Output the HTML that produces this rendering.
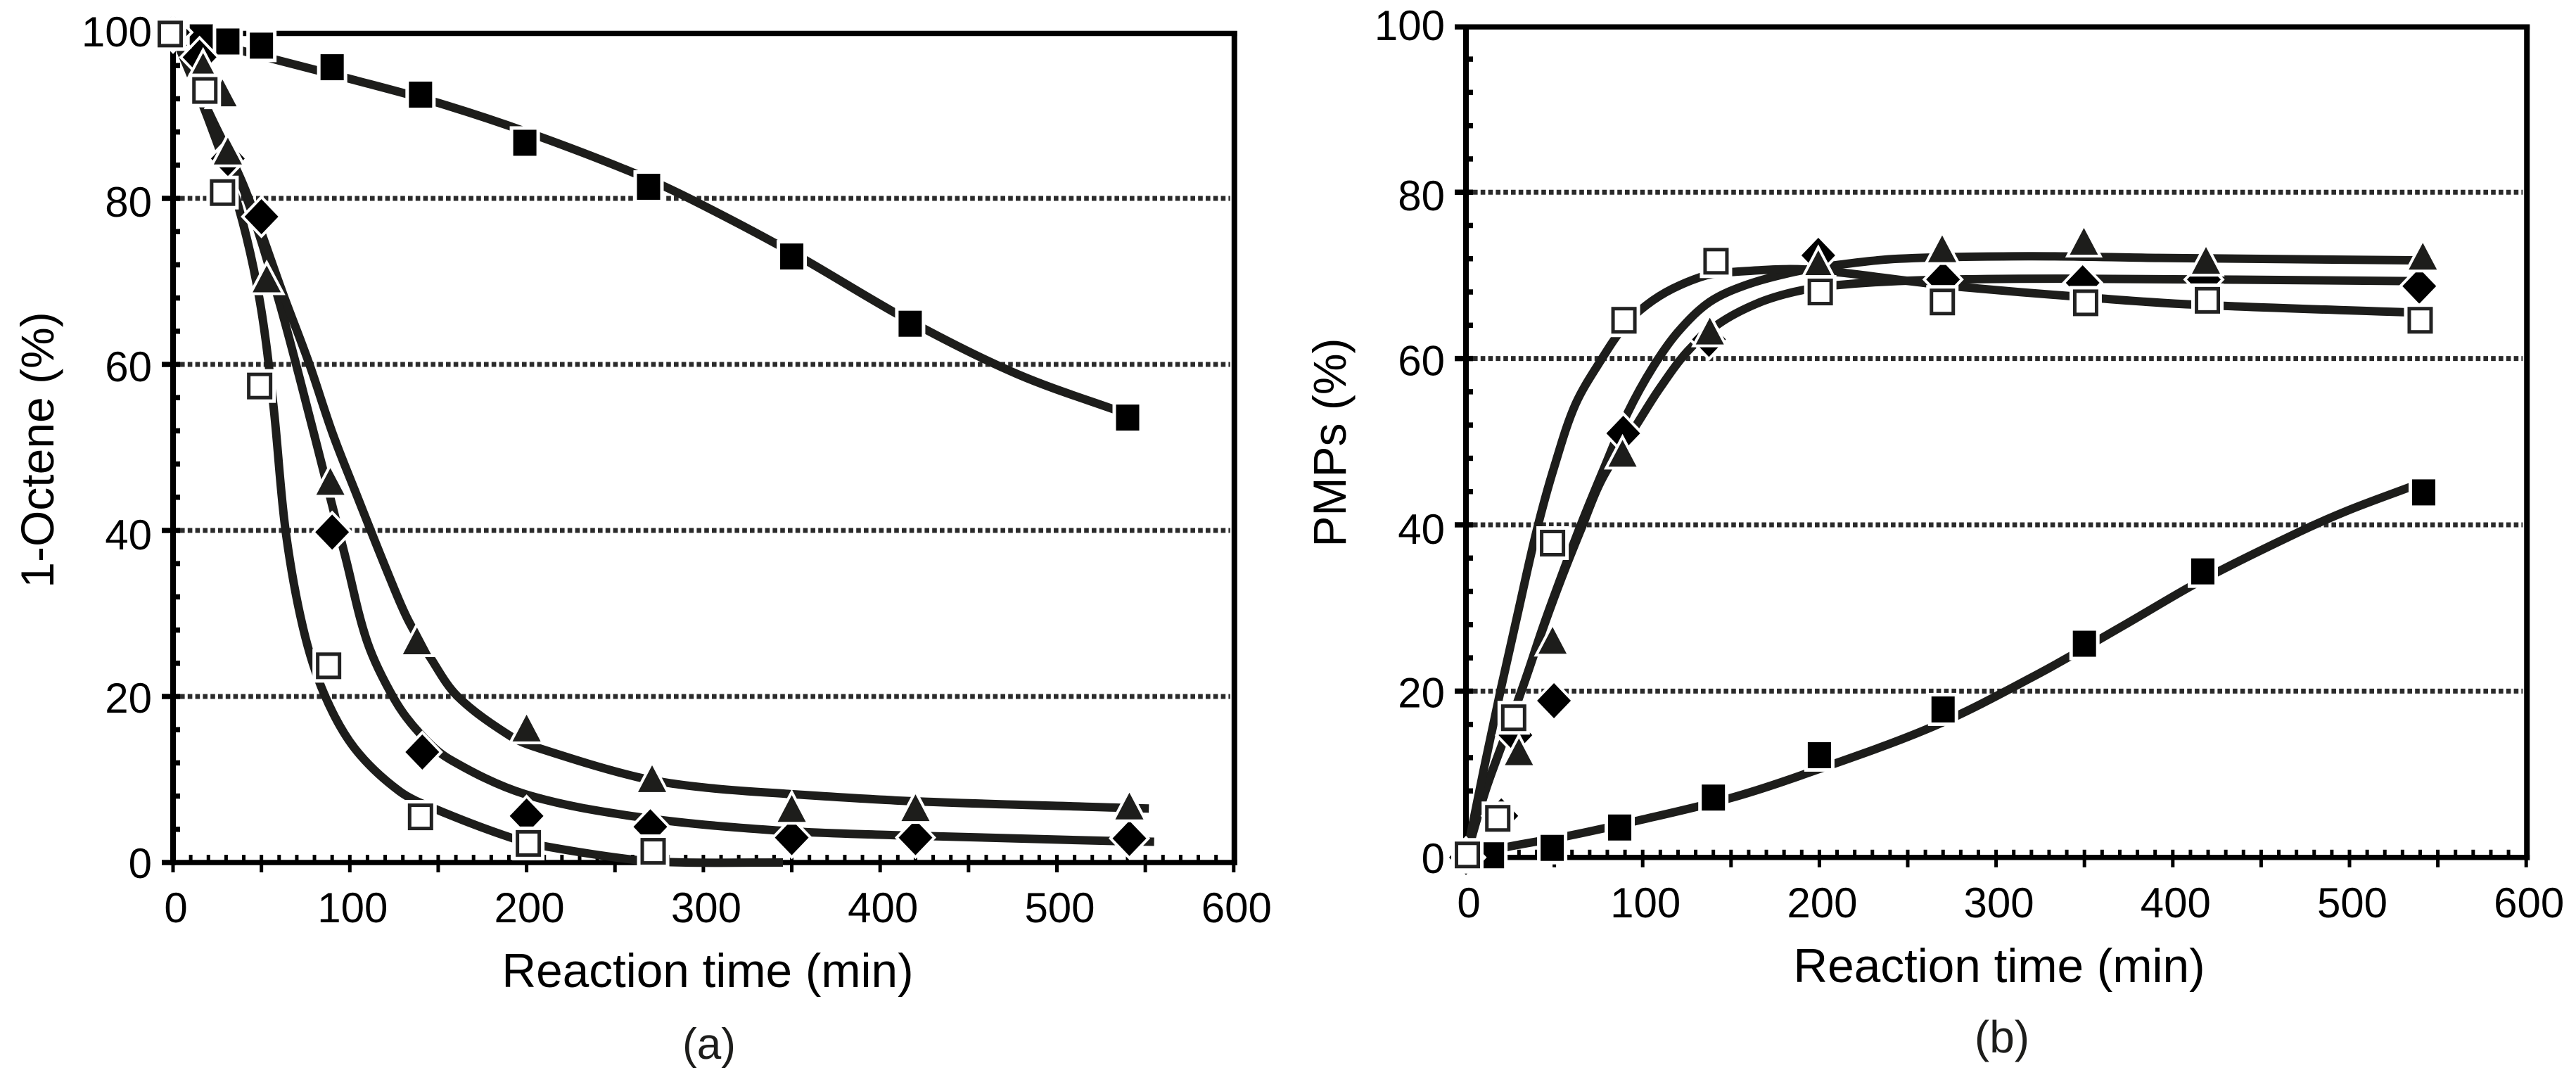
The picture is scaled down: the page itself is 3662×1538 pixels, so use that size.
<!DOCTYPE html>
<html lang="en">
<head>
<meta charset="utf-8">
<title>1-Octene and PMPs versus reaction time</title>
<style>
html,body{margin:0;padding:0;background:#fff;}
svg{display:block;}
text{font-family:"Liberation Sans",Arial,sans-serif;fill:#000;}
</style>
</head>
<body>
<svg id="figure" xmlns="http://www.w3.org/2000/svg" width="3662" height="1538" viewBox="0 0 3662 1538">
  <rect x="0" y="0" width="3662" height="1538" fill="#fff"/>
  <g id="panel-a">
    <text x="1006" y="1403" font-size="67.5" text-anchor="middle">Reaction time (min)</text>
    <text transform="translate(76,639.5) rotate(-90)" font-size="66" text-anchor="middle">1-Octene (%)</text>
    <text x="1008" y="1505" font-size="62" text-anchor="middle" style="fill:#1d1d1b">(a)</text>
  </g>
  <g id="panel-b">
    <text x="2842" y="1396" font-size="67.5" text-anchor="middle">Reaction time (min)</text>
    <text transform="translate(1913,629) rotate(-90)" font-size="66" text-anchor="middle">PMPs (%)</text>
    <text x="2846" y="1496" font-size="64" text-anchor="middle" style="fill:#1d1d1b">(b)</text>
  </g>
</svg>
<script>
// ---- shared tick labels ----
const xTickLabels = [0, 100, 200, 300, 400, 500, 600];
const yTickLabels = [0, 20, 40, 60, 80, 100];

// ---- panel (a): 1-Octene (%) markers ----
const aFilledSquareTime = [0, 16, 31, 50, 90, 140, 199, 269, 350, 417, 540];
const aFilledSquareValue = [100, 99.4, 98.9, 98.4, 95.8, 92.5, 86.7, 81.4, 73, 64.9, 53.6];
const aDiamondTime = [0, 15, 31, 50, 90, 141, 200, 270, 350, 420, 541];
const aDiamondValue = [100, 97, 84.8, 77.8, 39.8, 13.3, 5.6, 4.3, 3, 3, 2.9];
const aTriangleTime = [0, 17, 28, 31, 53, 89, 138, 200, 271, 350, 420, 541];
const aTriangleValue = [100, 95.9, 92.7, 85.7, 70.3, 45.9, 26.7, 16.2, 10.1, 6.5, 6.6, 6.8];
const aOpenSquareTime = [-1.6, 18, 28, 49, 88, 140, 201, 271.6];
const aOpenSquareValue = [99.8, 93, 80.7, 57.4, 23.7, 5.5, 2.3, 1.35];

// ---- panel (a): fitted curves ----
const aFilledSquareFitTime = [0, 60, 100, 150, 200, 258, 292, 350, 417, 478, 540];
const aFilledSquareFitValue = [100, 96.6, 94.4, 91.5, 88, 83.3, 80, 73.5, 65.2, 58.8, 54];
const aDiamondFitTime = [0, 20, 40, 59.3, 79.8, 97.5, 110, 125.4, 139.4, 156, 199, 262.5, 339, 407.5, 528.5, 555];
const aDiamondFitValue = [100, 90, 81, 68.1, 51.6, 36.8, 26.5, 19.6, 15.6, 12.5, 8.25, 5.5, 3.9, 3.3, 2.6, 2.5];
const aTriangleFitTime = [0, 20, 40, 62.9, 77, 90.4, 102.9, 122.4, 133, 145.5, 161, 191, 206.6, 262.5, 300, 349, 417, 535, 552];
const aTriangleFitValue = [100, 90.5, 81.5, 68.1, 60.1, 51.6, 44.8, 34.4, 29.2, 24.7, 20, 15.2, 13.8, 10.3, 9.05, 8.25, 7.4, 6.6, 6.5];
const aOpenSquareFitTime = [0, 20, 37, 48.7, 56.7, 63.7, 73.6, 85.5, 102.6, 128, 150, 191, 212, 262, 290, 345];
const aOpenSquareFitValue = [100, 89.5, 79, 68.1, 55.2, 39.9, 28.2, 20.3, 13.8, 8.6, 6.3, 3, 1.9, 0.3, 0, 0];

// ---- panel (b): PMPs (%) markers ----
const bFilledSquareTime = [0, 15, 48.8, 87, 140, 200, 270, 350, 417, 542];
const bFilledSquareValue = [0, 0.26, 1.15, 3.6, 7.2, 12.3, 17.8, 25.7, 34.4, 43.9];
const bDiamondTime = [0, 20, 28, 49.8, 89, 137.5, 199.4, 270, 349, 417.6, 539.5];
const bDiamondValue = [0, 5, 14.7, 18.85, 51, 62.3, 72.4, 69.5, 69.1, 69.5, 68.7];
const bTriangleTime = [0, 30, 49, 88.6, 138, 199.4, 269.5, 349.7, 418.8, 541.5];
const bTriangleValue = [0, 12.7, 26.1, 48.6, 63.3, 71.4, 73.2, 74.1, 71.8, 72.3];
const bOpenSquareTime = [0.8, 18, 27, 49, 89.4, 141.5, 200.5, 269.6, 350.7, 419.6, 540];
const bOpenSquareValue = [0.3, 4.7, 16.8, 37.8, 64.6, 71.7, 68, 66.8, 66.7, 67, 64.6];

// ---- panel (b): fitted curves ----
const bFilledSquareFitTime = [0, 22, 58, 96.6, 149, 190, 265, 325, 373, 417, 472, 500, 535];
const bFilledSquareFitValue = [0, 1.2, 2.6, 4.4, 7.1, 9.9, 15.8, 22.2, 28, 33.4, 39.2, 41.8, 44.6];
const bDiamondFitTime = [0, 11, 22, 33, 43.7, 54.3, 65, 77.5, 97, 109.6, 125.5, 143.2, 164.5, 185.5, 208.5, 256, 340, 540];
const bDiamondFitValue = [0, 8, 14.5, 21, 27.6, 33.7, 39.4, 45.7, 52.2, 56.4, 60.9, 64.2, 66.6, 68, 68.8, 69.4, 69.6, 69.3];
const bTriangleFitTime = [0, 11, 22, 33, 43.7, 54.3, 65, 77.5, 91.6, 105.9, 120, 137.9, 159.3, 185.5, 208.5, 245, 318, 392, 540];
const bTriangleFitValue = [0, 8, 14.5, 21, 27.8, 34, 40, 46.5, 53.5, 59, 63.2, 66.8, 68.9, 70.4, 71.2, 72, 72.3, 72.1, 71.8];
const bOpenSquareFitTime = [0, 10, 20, 30, 40, 50, 62, 77, 90, 102, 117, 136, 150, 192, 259, 280, 342, 410, 540];
const bOpenSquareFitValue = [0, 10.5, 20.5, 30, 39.3, 47, 54.5, 60, 64, 66.4, 68.4, 70, 70.4, 70.7, 69.1, 68.6, 67.5, 66.5, 65.5];

const SVG_NS = 'http://www.w3.org/2000/svg';
const INK = '#000';
const CURVE = '#1d1d1b';
const GRID = '#2b2b2b';
// the source labels sit slightly uneven around their ticks
const yLabelDrop = { 0: 22, 20: 23, 40: 27, 60: 24, 80: 26, 100: 20 };

function node(parent, tag, attrs) {
  const el = document.createElementNS(SVG_NS, tag);
  for (const k in attrs) el.setAttribute(k, attrs[k]);
  parent.appendChild(el);
  return el;
}

function smoothPath(px) {
  let d = 'M' + px[0][0].toFixed(1) + ' ' + px[0][1].toFixed(1);
  const dirAt = (i) => {
    const a = px[Math.max(i - 1, 0)], b = px[Math.min(i + 1, px.length - 1)];
    const dx = b[0] - a[0], dy = b[1] - a[1], l = Math.hypot(dx, dy) || 1;
    return [dx / l, dy / l];
  };
  for (let i = 0; i < px.length - 1; i++) {
    const p = px[i], q = px[i + 1];
    const s = Math.hypot(q[0] - p[0], q[1] - p[1]) / 3;
    const d0 = dirAt(i), d1 = dirAt(i + 1);
    d += 'C' + (p[0] + d0[0] * s).toFixed(1) + ' ' + (p[1] + d0[1] * s).toFixed(1) + ' ' +
         (q[0] - d1[0] * s).toFixed(1) + ' ' + (q[1] - d1[1] * s).toFixed(1) + ' ' +
         q[0].toFixed(1) + ' ' + q[1].toFixed(1);
  }
  return d;
}

function drawAxes(g, p, xOf, yOf) {
  const left = xOf(0), right = xOf(600), top = yOf(100), bottom = yOf(0);

  yTickLabels.slice(1, -1).forEach((v) => {
    const line = node(g, 'line', { x1: left + 10, x2: right - 5, y1: yOf(v), y2: yOf(v), stroke: GRID, 'stroke-width': 7, 'stroke-dasharray': '6.6 4.2' });
    
    
  });

  for (let t = 10; t < 600; t += 10) {
    const tick = node(g, 'line', { x1: xOf(t), x2: xOf(t), y1: bottom - 11, y2: bottom, stroke: INK, 'stroke-width': 5 });
    
    
  }
  for (let t = 0; t <= 600; t += 50) {
    const tick = node(g, 'line', { x1: xOf(t), x2: xOf(t), y1: bottom, y2: bottom + 14, stroke: INK, 'stroke-width': 5 });
    
    
  }
  for (let v = 4; v < 100; v += 4) {
    const isMajor = v % 20 === 0;
    const tick = node(g, 'line', { x1: isMajor ? left - 16 : left, x2: left + 10, y1: yOf(v), y2: yOf(v), stroke: INK, 'stroke-width': 7.5 });
    
    
  }

  const frameLeft = node(g, 'line', { x1: left, x2: left, y1: top - 2, y2: bottom + 4, stroke: INK, 'stroke-width': 8 });
  
  
  const frameBottom = node(g, 'line', { x1: left - 16, x2: right + 5, y1: bottom, y2: bottom, stroke: INK, 'stroke-width': 7.5 });
  
  
  const frameTop = node(g, 'line', { x1: left - 16, x2: right + 5, y1: top + 1.5, y2: top + 1.5, stroke: INK, 'stroke-width': 7.5 });
  
  
  const frameRight = node(g, 'line', { x1: right + 1, x2: right + 1, y1: top - 2, y2: bottom + 4, stroke: INK, 'stroke-width': 8 });
  
  

  xTickLabels.forEach((t) => {
    const label = node(g, 'text', { x: xOf(t) + 4, y: p.xLabelBaseline, 'font-size': 60, 'text-anchor': 'middle' });
    
    
    label.textContent = String(t);
  });
  yTickLabels.forEach((v) => {
    const label = node(g, 'text', { x: left - 30, y: yOf(v) + yLabelDrop[v], 'font-size': 60, 'text-anchor': 'end' });
    
    
    label.textContent = String(v);
  });
}

function drawCurve(g, name, times, values, xOf, yOf) {
  const pts = times.map((t, i) => [xOf(t), yOf(values[i])]);
  const path = node(g, 'path', { d: smoothPath(pts), fill: 'none', stroke: CURVE, 'stroke-width': 12, 'stroke-linecap': 'butt' });
  
  
}

function drawSquares(g, name, times, values, xOf, yOf) {
  times.forEach((t, i) => {
    const x = xOf(t), y = yOf(values[i]);
    const m = node(g, 'rect', { x: x - 16.5, y: y - 18.5, width: 33, height: 37, fill: INK, stroke: '#fff', 'stroke-width': 10, 'paint-order': 'stroke' });
    
    
  });
}

function drawOpenSquares(g, name, times, values, xOf, yOf) {
  times.forEach((t, i) => {
    const x = xOf(t), y = yOf(values[i]);
    const halo = node(g, 'rect', { x: x - 23, y: y - 24, width: 46, height: 48, fill: '#fff' });
    
    
    const m = node(g, 'rect', { x: x - 15.5, y: y - 16.5, width: 31, height: 33, fill: '#fff', stroke: '#222', 'stroke-width': 5 });
    
    
  });
}

function drawDiamonds(g, name, times, values, xOf, yOf) {
  times.forEach((t, i) => {
    const x = xOf(t), y = yOf(values[i]);
    const pts = [x, y - 25, x + 24, y, x, y + 25, x - 24, y].join(' ');
    const m = node(g, 'polygon', { points: pts, fill: INK, stroke: '#fff', 'stroke-width': 8, 'paint-order': 'stroke' });
    
    
  });
}

function drawTriangles(g, name, times, values, xOf, yOf) {
  times.forEach((t, i) => {
    const x = xOf(t), y = yOf(values[i]);
    const pts = [x, y - 19, x + 20, y + 19, x - 20, y + 19].join(' ');
    const m = node(g, 'polygon', { points: pts, fill: CURVE, stroke: '#fff', 'stroke-width': 8, 'paint-order': 'stroke' });
    
    
  });
}

function drawPanel(p) {
  const g = document.getElementById(p.group);
  const xOf = (t) => p.x0 + p.xScale * t;
  const yOf = (v) => p.y0 - p.yScale * v;

  drawAxes(g, p, xOf, yOf);

  drawCurve(g, 'curve-filled-square-' + p.id, p.squareFit[0], p.squareFit[1], xOf, yOf);
  drawCurve(g, 'curve-diamond-' + p.id, p.diamondFit[0], p.diamondFit[1], xOf, yOf);
  drawCurve(g, 'curve-triangle-' + p.id, p.triangleFit[0], p.triangleFit[1], xOf, yOf);
  drawCurve(g, 'curve-open-square-' + p.id, p.openFit[0], p.openFit[1], xOf, yOf);

  drawSquares(g, 'point-filled-square-' + p.id, p.square[0], p.square[1], xOf, yOf);
  drawDiamonds(g, 'point-diamond-' + p.id, p.diamond[0], p.diamond[1], xOf, yOf);
  drawTriangles(g, 'point-triangle-' + p.id, p.triangle[0], p.triangle[1], xOf, yOf);
  drawOpenSquares(g, 'point-open-square-' + p.id, p.open[0], p.open[1], xOf, yOf);
}

drawPanel({
  id: 'a', group: 'panel-a',
  x0: 246, xScale: 2.513, y0: 1226, yScale: 11.8, xLabelBaseline: 1311,
  square: [aFilledSquareTime, aFilledSquareValue],
  diamond: [aDiamondTime, aDiamondValue],
  triangle: [aTriangleTime, aTriangleValue],
  open: [aOpenSquareTime, aOpenSquareValue],
  squareFit: [aFilledSquareFitTime, aFilledSquareFitValue],
  diamondFit: [aDiamondFitTime, aDiamondFitValue],
  triangleFit: [aTriangleFitTime, aTriangleFitValue],
  openFit: [aOpenSquareFitTime, aOpenSquareFitValue]
});

drawPanel({
  id: 'b', group: 'panel-b',
  x0: 2084, xScale: 2.512, y0: 1218.8, yScale: 11.82, xLabelBaseline: 1304,
  square: [bFilledSquareTime, bFilledSquareValue],
  diamond: [bDiamondTime, bDiamondValue],
  triangle: [bTriangleTime, bTriangleValue],
  open: [bOpenSquareTime, bOpenSquareValue],
  squareFit: [bFilledSquareFitTime, bFilledSquareFitValue],
  diamondFit: [bDiamondFitTime, bDiamondFitValue],
  triangleFit: [bTriangleFitTime, bTriangleFitValue],
  openFit: [bOpenSquareFitTime, bOpenSquareFitValue]
});
</script>
</body>
</html>
